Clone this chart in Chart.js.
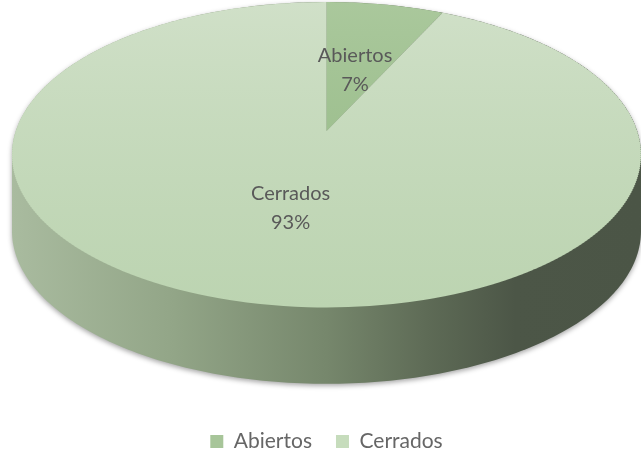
<!DOCTYPE html>
<html>
<head>
<meta charset="utf-8">
<script src="https://cdn.jsdelivr.net/npm/chart.js@4.4.1/dist/chart.umd.min.js"></script>
<style>
  html, body { margin: 0; padding: 0; background: #fff; }
  #wrap { width: 641px; height: 462px; }
</style>
</head>
<body>
<div id="wrap"><canvas id="pie"></canvas></div>
<script>
const labels = ["Abiertos", "Cerrados"];
const values = [7, 93];
const sliceColors = ["#a7c599", "#c6dcbc"];

const FONT = "Lato, 'Open Sans', sans-serif";
const TEXT = "#595959";

// fakes the excel 3d pie: the flat pie from chart.js is redrawn in thin
// horizontal strips, each with its own transform, giving a tilted perspective look
const pie3d = {
  id: "pie3d",
  beforeDatasetsDraw(chart, args, opts) {
    const meta = chart.getDatasetMeta(0);
    const arc0 = meta.data[0];
    const ca = chart.chartArea;
    const ctx = chart.ctx;
    const a = opts.tilt;
    const depth = ca.height * opts.depth;
    const faceBottom = ca.bottom - depth;
    const B = (faceBottom - ca.top) * (1 - a * a) / 2;
    const cy = ca.top + B / (1 + a);
    const cx = (ca.left + ca.right) / 2;
    const Rx = ca.width / 2 * Math.sqrt(1 - a * a);
    const r = arc0.outerRadius;

    const proj = (u, v) => {
      const s = 1 / (1 - a * v);
      return [cx + Rx * u * s, cy + B * v * s];
    };

    // outline of the top face
    const N = 360;
    const pts = [];
    for (let k = 0; k < N; k++) {
      const p = (k / N) * Math.PI * 2;
      pts.push(proj(Math.cos(p), Math.sin(p)));
    }
    let iL = 0, iR = 0;
    pts.forEach((p, k) => {
      if (p[0] < pts[iL][0]) iL = k;
      if (p[0] > pts[iR][0]) iR = k;
    });

    // side wall: back arc of the top outline + front arc shifted down
    ctx.save();
    ctx.beginPath();
    for (let k = iR; k >= iL - N; k--) {
      const p = pts[(k + N) % N];
      ctx.lineTo(p[0], p[1]);
    }
    for (let k = iL; k >= iR; k--) {
      const p = pts[k];
      ctx.lineTo(p[0], p[1] + depth);
    }
    ctx.closePath();
    const g = ctx.createLinearGradient(ca.left, 0, ca.right, 0);
    g.addColorStop(0, "#a9bb9f");
    g.addColorStop(0.25, "#93a688");
    g.addColorStop(0.5, "#76876c");
    g.addColorStop(0.66, "#5e6b56");
    g.addColorStop(0.8, "#4c5647");
    g.addColorStop(1, "#4b5546");
    ctx.shadowColor = "rgba(0,0,0,0.35)";
    ctx.shadowBlur = 5;
    ctx.shadowOffsetY = 2;
    ctx.fillStyle = g;
    ctx.fill();
    ctx.restore();

    // top face, strip by strip
    const step = 2;
    for (let y0 = Math.floor(ca.top) - 2; y0 < faceBottom + 2; y0 += step) {
      const y1 = y0 + step;
      const ym = (y0 + y1) / 2;
      const t = (ym - cy) / B;
      const vm = t / (1 + a * t);
      const s = 1 / (1 - a * vm);
      const dydv = B * s * s;
      const sx = Rx * s / r;
      const sy = dydv / r;
      ctx.save();
      ctx.beginPath();
      ctx.rect(0, y0, chart.width, step);
      ctx.clip();
      // x' = cx + sx (x - ax) ; y' = ym + sy (y - ay - vm r)
      ctx.transform(sx, 0, 0, sy, cx - sx * arc0.x, ym - sy * (arc0.y + vm * r));
      meta.controller.draw();
      ctx.restore();
    }

    // data labels
    const total = values.reduce((p, q) => p + q, 0);
    ctx.save();
    ctx.fillStyle = TEXT;
    ctx.font = opts.fontSize + "px " + FONT;
    ctx.textAlign = "center";
    ctx.textBaseline = "middle";
    meta.data.forEach((arc, i) => {
      const mid = (arc.startAngle + arc.endAngle) / 2;
      const f = opts.labelRadius[i];
      const [x, y] = proj(Math.cos(mid) * f, Math.sin(mid) * f);
      const pct = Math.round(values[i] / total * 100) + "%";
      ctx.fillText(labels[i], x, y - opts.fontSize * 0.72);
      ctx.fillText(pct, x, y + opts.fontSize * 0.72);
    });
    ctx.restore();
    return false;
  }
};

function topFill(c) {
  const i = c.dataIndex;
  const chart = c.chart;
  const ca = chart.chartArea;
  if (!ca) return sliceColors[i];
  const yc = (ca.top + ca.bottom) / 2;
  const r = Math.min(ca.width, ca.height) / 2;
  const g = chart.ctx.createLinearGradient(0, yc - r, 0, yc + r);
  if (i === 0) {
    g.addColorStop(0, "#aac89c");
    g.addColorStop(1, "#94b985");
  } else {
    g.addColorStop(0, "#d0e0c8");
    g.addColorStop(1, "#bcd4b1");
  }
  return g;
}

new Chart(document.getElementById("pie"), {
  type: "pie",
  data: {
    labels: labels,
    datasets: [{
      data: values,
      backgroundColor: topFill,
      borderWidth: 0
    }]
  },
  options: {
    responsive: true,
    maintainAspectRatio: false,
    animation: false,
    layout: { padding: { left: 12, right: 0, top: 2, bottom: 0 } },
    plugins: {
      tooltip: { enabled: false },
      pie3d: { depth: 0.2, tilt: 0.155, labelRadius: [0.45, 0.49], fontSize: 20 },
      legend: {
        position: "bottom",
        title: { display: true, text: "", font: { size: 1 }, padding: { top: 22, bottom: 0 } },
        labels: {
          color: TEXT,
          font: { family: FONT, size: 21 },
          boxWidth: 13,
          boxHeight: 13,
          padding: 24,
          generateLabels: () => labels.map((l, i) => ({
            text: l, fillStyle: sliceColors[i], strokeStyle: sliceColors[i], lineWidth: 0, index: i
          }))
        }
      }
    }
  },
  plugins: [pie3d]
});
</script>
</body>
</html>
